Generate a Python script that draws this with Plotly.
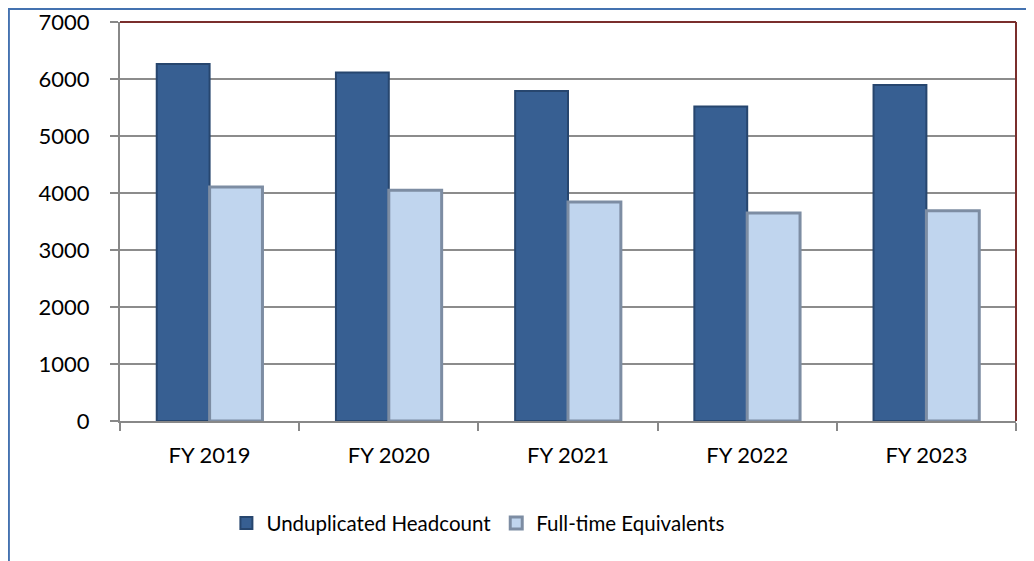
import plotly.graph_objects as go

categories = ["FY 2019", "FY 2020", "FY 2021", "FY 2022", "FY 2023"]
headcount = [6265, 6116, 5788, 5517, 5894]
fte = [4106, 4047, 3841, 3647, 3688]
y_ticks = [0, 1000, 2000, 3000, 4000, 5000, 6000, 7000]

FONT = "Lato, 'Open Sans', sans-serif"

fig = go.Figure()
fig.add_trace(go.Bar(
    name="Unduplicated Headcount", x=categories, y=headcount,
    marker=dict(color="#375f92", line=dict(color="#27466e", width=2)),
))
fig.add_trace(go.Bar(
    name="Full-time Equivalents", x=categories, y=fte,
    marker=dict(color="#c0d5ee", line=dict(color="#7d8da3", width=3)),
))

fig.update_layout(
    width=1026, height=553,
    margin=dict(l=112, r=18, t=14, b=140),
    paper_bgcolor="white", plot_bgcolor="white",
    barmode="group", bargap=0.41, bargroupgap=0.0,
    font=dict(family=FONT, size=22, color="#000000"),
    showlegend=True,
    legend=dict(orientation="h", x=0.40, xanchor="center", y=-0.256, yanchor="middle",
                font=dict(family=FONT, size=20.5), itemwidth=30),
    xaxis=dict(
        showgrid=False, ticks="outside", tickson="boundaries", ticklen=8,
        tickcolor="#888888", tickwidth=2, showline=True, linecolor="#888888", linewidth=2,
        ticklabelstandoff=14, tickfont=dict(family=FONT, size=22),
    ),
    yaxis=dict(
        range=[0, 7000], tickvals=y_ticks, showgrid=True, gridcolor="#8c8c8c", gridwidth=2,
        ticks="outside", ticklen=8, tickcolor="#888888", tickwidth=2,
        showline=True, linecolor="#888888", linewidth=2, zeroline=False,
        ticklabelstandoff=16, tickfont=dict(family=FONT, size=22),
        ticklabeloverflow="allow", automargin=False,
    ),
    shapes=[
        dict(type="line", xref="paper", yref="paper", x0=0, x1=1, y0=1, y1=1,
             line=dict(color="#7a2e2c", width=2)),
        dict(type="line", xref="paper", yref="paper", x0=1, x1=1, y0=0, y1=1,
             line=dict(color="#7a2e2c", width=2)),
        dict(type="rect", xref="paper", yref="paper", x0=-0.124, x1=1.2, y0=-0.6, y1=1.0326,
             line=dict(color="#4472b0", width=2), layer="below"),
    ],
)

fig.write_html("out.html")
